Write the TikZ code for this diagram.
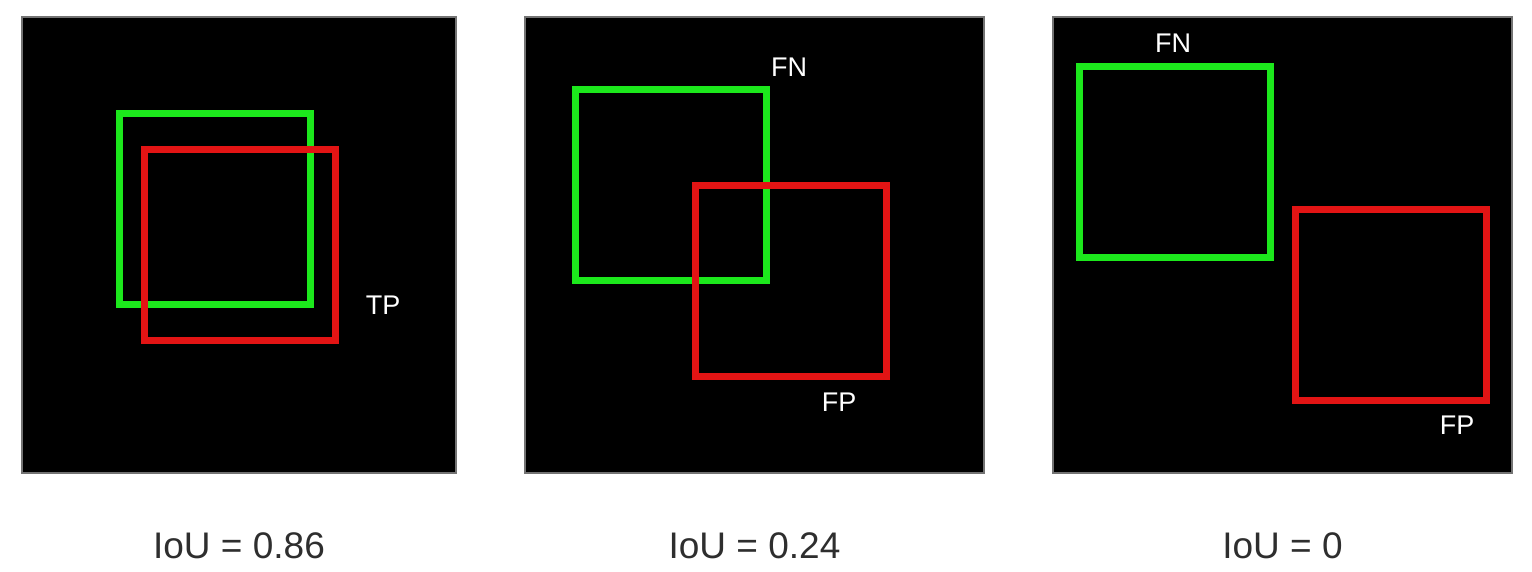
\documentclass[tikz,border=0pt]{standalone}
\usepackage{fontspec}
\setmainfont{Liberation Sans}
\usetikzlibrary{positioning}
\definecolor{gtgreen}{RGB}{28,232,28}
\definecolor{predred}{RGB}{226,20,20}

\begin{document}
\begin{tikzpicture}[x=1pt,y=-1pt,
  panel/.style={fill=black,draw=black!55,line width=1.2pt,inner sep=0pt,minimum height=456pt},
  gtbox/.style={draw=gtgreen,line width=7pt,minimum width=191pt,minimum height=191pt,inner sep=0pt},
  predbox/.style={gtbox,draw=predred},
  tag/.style={text=white,font=\fontsize{27}{30}\selectfont,inner sep=0pt},
  score/.style={text=black!82,font=\fontsize{37}{40}\selectfont,inner sep=0pt}]
  \useasboundingbox[fill=white] (0,0) rectangle (1532,572);
  % black frames
  \node[panel,minimum width=434pt] (p1) at (239,245) {};
  \node[panel,minimum width=459pt] (p2) at (754.5,245) {};
  \node[panel,minimum width=459pt] (p3) at (1282.5,245) {};
  % ground truth (green) and prediction (red)
  \node[gtbox] (gt1) at (215,209) {};
  \node[predbox] (pr1) at (239.5,245) {};
  \node[gtbox] (gt2) at (671,185) {};
  \node[predbox] (pr2) at (791,281) {};
  \node[gtbox] (gt3) at (1175,162) {};
  \node[predbox] (pr3) at (1391,305) {};
  % labels
  \node[tag] (tp1) at (383,305) {TP};
  \node[tag] (fn2) at (789,67) {FN};
  \node[tag] (fp2) at (839,402) {FP};
  \node[tag] (fn3) at (1173,43) {FN};
  \node[tag] (fp3) at (1457,425) {FP};
  % scores
  \node[score,below=59pt of p1] (iou1) {IoU = 0.86};
  \node[score,below=59pt of p2] (iou2) {IoU = 0.24};
  \node[score,below=59pt of p3] (iou3) {IoU = 0};
\end{tikzpicture}
\end{document}
